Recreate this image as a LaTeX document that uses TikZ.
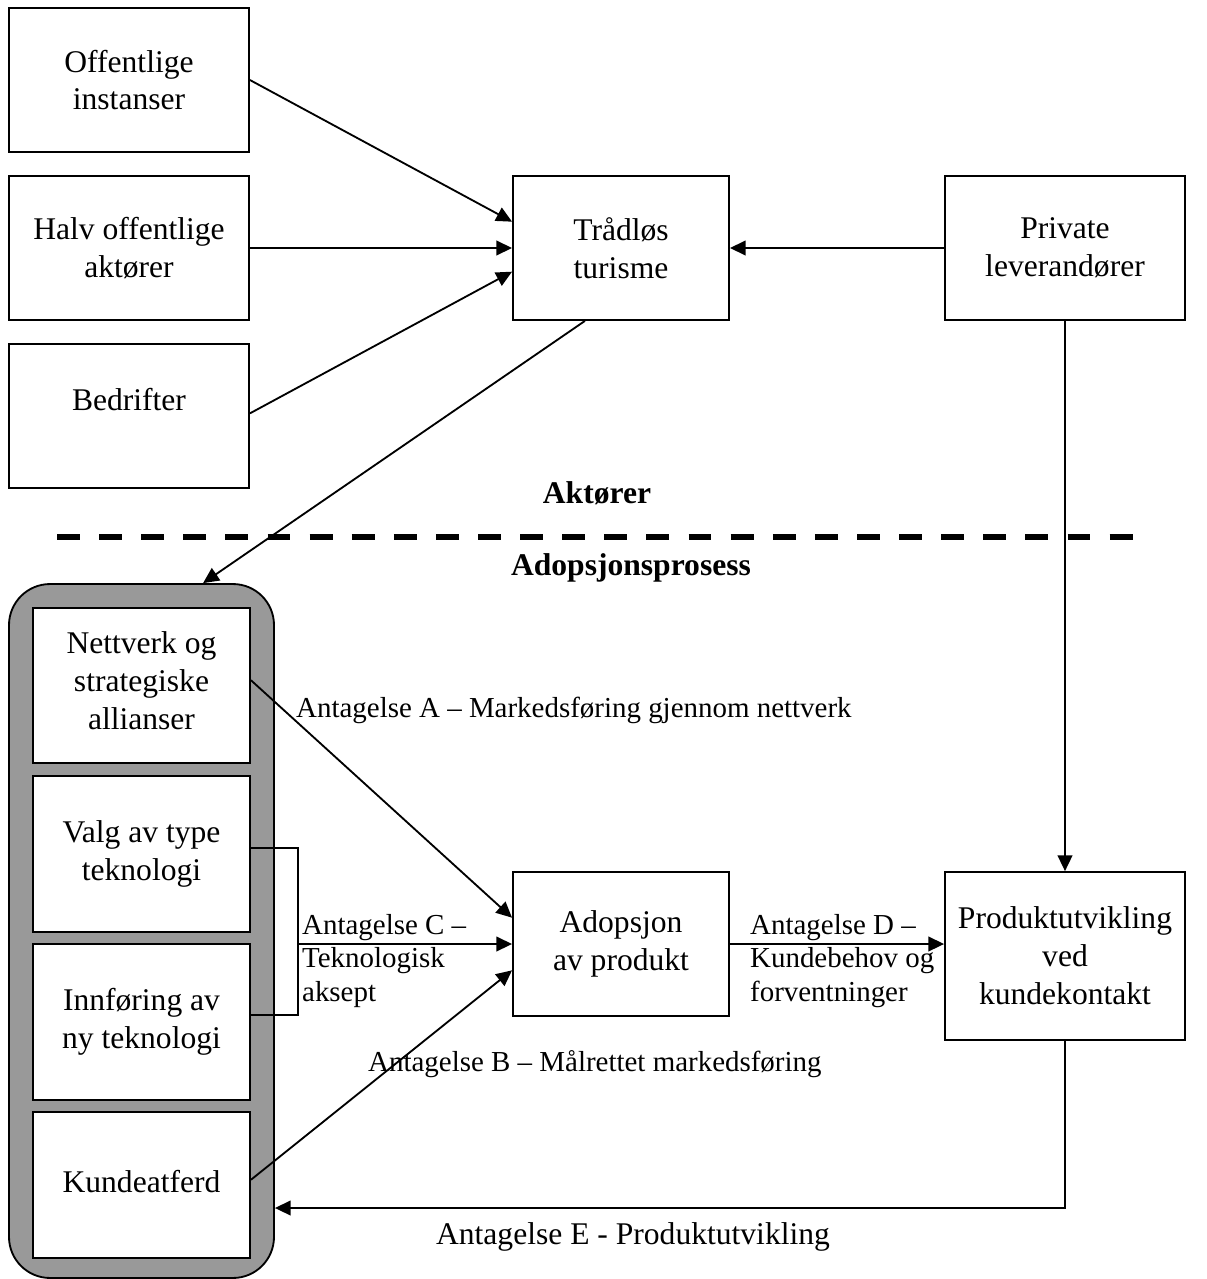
\documentclass[tikz,border=0pt]{standalone}
\usepackage{fontspec}
\setmainfont{Liberation Serif}
\usetikzlibrary{arrows.meta}
\tikzset{>={Triangle[length=6pt,width=5.6pt]}}
\colorlet{grpcol}{black!40}
\tikzset{
  box/.style={draw, line width=0.7pt, align=center, fill=white,
    font=\fontsize{12}{14.4}\selectfont},
  lbl/.style={align=left, inner sep=1pt, font=\fontsize{11}{12.7}\selectfont},
  conn/.style={line width=0.7pt}
}

\begin{document}
\begin{tikzpicture}[x=0.38pt, y=-0.38pt]
    \useasboundingbox (0, 0) rectangle (1207, 1279);

    % aktorer
    \node[box, minimum width=91.2pt, minimum height=54.7pt] (off) at (129, 80) {Offentlige\\instanser};
    \node[box, minimum width=91.2pt, minimum height=54.7pt] (halv) at (129, 248) {Halv offentlige\\akt\o rer};
    \node[box, minimum width=91.2pt, minimum height=54.7pt, text depth=13pt] (bed) at (129, 416) {Bedrifter};
    \node[box, minimum width=82.1pt, minimum height=54.7pt] (tur) at (621, 248) {Tr\aa dl\o s\\turisme};
    \node[box, minimum width=91.2pt, minimum height=54.7pt] (priv) at (1065, 248) {Private\\leverand\o rer};

    \node[font=\bfseries\fontsize{12}{14.4}\selectfont] (akt) at (597, 493) {Akt\o rer};
    \draw[line width=2.2pt, dash pattern=on 8.7pt off 7.3pt] (57, 537) -- (1133, 537);
    \node[font=\bfseries\fontsize{12}{14.4}\selectfont] (ados) at (631, 568) {Adopsjonsprosess};

    % adopsjonsprosess
    \node[draw, line width=0.7pt, fill=grpcol, rounded corners=15.6pt,
        minimum width=100.7pt, minimum height=263.7pt] (grp) at (141.5, 931) {};
    \node[box, minimum width=82.5pt, minimum height=58.9pt, text depth=4pt] (nett) at (141.5, 685.5) {Nettverk og\\strategiske\\allianser};
    \node[box, minimum width=82.5pt, minimum height=59.3pt] (valg) at (141.5, 854) {Valg av type\\teknologi};
    \node[box, minimum width=82.5pt, minimum height=59.3pt] (innf) at (141.5, 1022) {Innf\o ring av\\ny teknologi};
    \node[box, minimum width=82.5pt, minimum height=55.5pt, text depth=3pt] (kunde) at (141.5, 1185) {Kundeatferd};
    \node[box, minimum width=82.1pt, minimum height=54.7pt] (adop) at (621, 944) {Adopsjon\\av produkt};
    \node[box, minimum width=91.2pt, minimum height=63.8pt] (prod) at (1065, 956) {Produktutvikling\\ved\\kundekontakt};

    \coordinate (brk) at (298, 944);
    \coordinate (ecorner) at (1065, 1208);

    \draw[conn, ->] (off.east) -- ([yshift=10pt]tur.west);
    \draw[conn, ->] (halv.east) -- (tur.west);
    \draw[conn, ->] ([yshift=1pt]bed.east) -- ([yshift=-9pt]tur.west);
    \draw[conn, ->] (priv.west) -- (tur.east);
    \draw[conn, ->] ([xshift=-13.7pt]tur.south) -- ([xshift=23.4pt]grp.north);
    \draw[conn, ->] (priv.south) -- (prod.north);

    \draw[conn, ->] ([yshift=2pt]nett.east) -- ([yshift=10pt]adop.west);
    \draw[conn, ->] ([yshift=2pt]kunde.east) -- ([yshift=-10pt]adop.west);
    \draw[conn] ([yshift=2.3pt]valg.east) -| (brk) |- ([yshift=2.7pt]innf.east);
    \draw[conn, ->] (brk) -- (adop.west);
    \draw[conn, ->] (adop.east) -- (adop.east -| prod.west);
    \draw[conn, ->] (prod.south) -- (ecorner) -- (ecorner -| grp.east);

    \node[lbl, anchor=west] (la) at (293, 710) {Antagelse A -- Markedsf\o ring gjennom nettverk};
    \node[lbl, anchor=west] (lc) at (299, 961) {Antagelse C --\\Teknologisk\\aksept};
    \node[lbl, anchor=west] (ld) at (747, 961) {Antagelse D --\\Kundebehov og\\forventninger};
    \node[lbl, anchor=west] (lb) at (365, 1064) {Antagelse B -- M\aa lrettet markedsf\o ring};
    \node[lbl, font=\fontsize{12}{14.4}\selectfont] (le) at (633, 1237) {Antagelse E - Produktutvikling};
\end{tikzpicture}
\end{document}
